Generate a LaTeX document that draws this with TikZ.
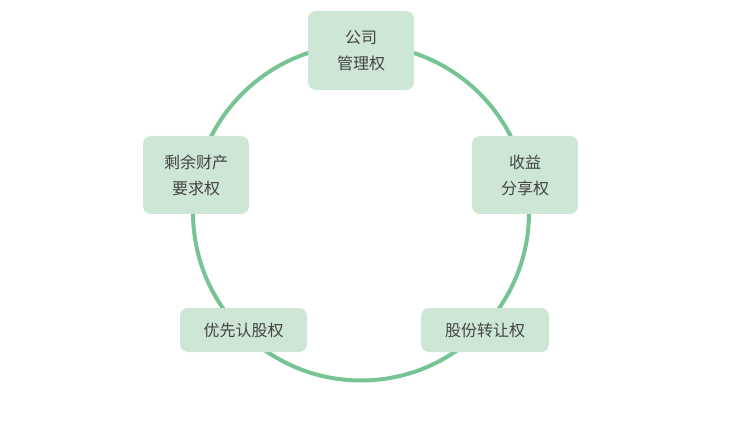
\documentclass[tikz,border=0pt]{standalone}
\usepackage{fontspec}
\newfontfamily\cjk{Noto Sans CJK SC}
\definecolor{boxfill}{HTML}{CDE6D5}
\definecolor{ring}{HTML}{76C493}
\definecolor{txt}{HTML}{444444}
\begin{document}
\begin{tikzpicture}[x=1pt,y=-1pt,
  box/.style={fill=boxfill,rounded corners=8pt,text=txt,font=\cjk\fontsize{16}{26}\selectfont,align=center,inner sep=0pt}]
\useasboundingbox (0,0) rectangle (738,427);
\draw[ring,line width=4pt] (361,212.5) circle (168);
\node[box,minimum width=106pt,minimum height=79pt] (a) at (361,50.5) {公司\\管理权};
\node[box,minimum width=106pt,minimum height=78pt] (b) at (525,175) {收益\\分享权};
\node[box,minimum width=106pt,minimum height=78pt] (c) at (196,175) {剩余财产\\要求权};
\node[box,minimum width=127pt,minimum height=44pt] (d) at (243.5,330) {优先认股权};
\node[box,minimum width=128pt,minimum height=44pt] (e) at (485,330) {股份转让权};
\end{tikzpicture}
\end{document}
